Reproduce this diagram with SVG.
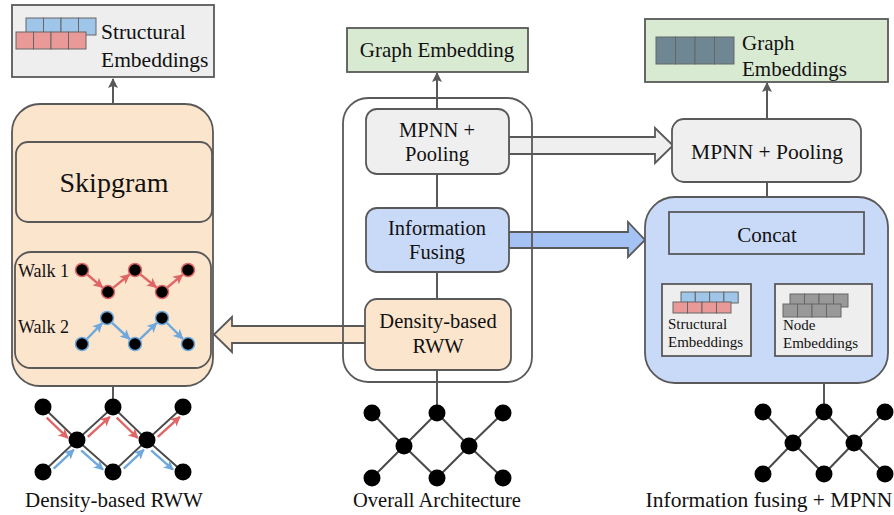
<svg xmlns="http://www.w3.org/2000/svg" width="894" height="515" viewBox="0 0 894 515" font-family="'Liberation Serif', 'DejaVu Serif', serif">
  <style>
    text { font-family: "Liberation Serif", "DejaVu Serif", serif; fill: #111; }
    .box { stroke: #595959; stroke-width: 1.8; }
    .peach { fill: #fce5cd; }
    .blue { fill: #c9daf8; }
    .green { fill: #d9ead3; }
    .grey { fill: #efefef; }
    .wire { stroke: #595959; stroke-width: 2; fill: none; }
    .edge { stroke: #4a4a4a; stroke-width: 2; fill: none; }
    .node { fill: #000; }
    .sq { stroke: #666; stroke-width: 1; }
    .sqb { fill: #9fc5e8; }
    .sqp { fill: #ea9999; }
    .sqg { fill: #999999; }
    .sqs { fill: #6f8793; }
    .halo { stroke: #fff; stroke-width: 5; fill: none; stroke-linecap: round; }
    .red { stroke: #e06666; stroke-width: 2.4; fill: none; }
    .bl { stroke: #6fa8dc; stroke-width: 2.4; fill: none; }
    .c { text-anchor: middle; }
  </style>
  <defs>
    <marker id="ah-dark" markerUnits="userSpaceOnUse" markerWidth="10" markerHeight="12" viewBox="0 0 10 12" refX="9" refY="6" orient="auto">
      <path d="M0,1 L10,6 L0,11 L2,6 z" fill="#595959"/>
    </marker>
    <marker id="ah-red" markerUnits="userSpaceOnUse" markerWidth="10" markerHeight="10" viewBox="0 0 10 10" refX="9" refY="5" orient="auto">
      <path d="M0,0 L10,5 L0,10 L2.5,5 z" fill="#e06666"/>
    </marker>
    <marker id="ah-blue" markerUnits="userSpaceOnUse" markerWidth="10" markerHeight="10" viewBox="0 0 10 10" refX="9" refY="5" orient="auto">
      <path d="M0,0 L10,5 L0,10 L2.5,5 z" fill="#6fa8dc"/>
    </marker>
  </defs>

  <!-- block arrows between stages -->
  <g id="connectors">
    <path class="box" fill="#fce5cd" d="M366,326 L232,326 L232,317 L214,334.5 L232,352 L232,343 L366,343 z"/>
    <path class="box" fill="#efefef" d="M509,137 L655,137 L655,128 L673,145.5 L655,163 L655,154 L509,154 z"/>
    <path class="box" fill="#a4c2f4" d="M509,232 L628,232 L628,222 L645,240 L628,257 L628,248 L509,248 z"/>

    <!-- left column wires -->
    <line class="wire" x1="113" y1="142" x2="113" y2="79" marker-end="url(#ah-dark)"/>
    <line class="wire" x1="113" y1="222" x2="113" y2="252"/>
    <line class="wire" x1="113" y1="368" x2="113" y2="407"/>

    <!-- middle column wires -->
    <line class="wire" x1="437" y1="109" x2="437" y2="73" marker-end="url(#ah-dark)"/>
    <line class="wire" x1="437" y1="174" x2="437" y2="208"/>
    <line class="wire" x1="437" y1="272" x2="437" y2="299"/>
    <line class="wire" x1="437" y1="370" x2="437" y2="413"/>

    <!-- right column wires -->
    <line class="wire" x1="767" y1="119" x2="767" y2="83" marker-end="url(#ah-dark)"/>
    <line class="wire" x1="767" y1="182" x2="767" y2="212"/>
    <line class="wire" x1="707" y1="254" x2="707" y2="284"/>
    <line class="wire" x1="826" y1="254" x2="826" y2="284"/>
    <line class="wire" x1="824" y1="356" x2="824" y2="412"/>
  </g>

  <!-- left column: random-walk pipeline -->
  <g id="structural-embeddings">
    <rect class="box" fill="#eeeeee" x="12" y="5" width="202" height="72"/>
    <rect class="sq sqb" x="26" y="18" width="17.5" height="17"/>
    <rect class="sq sqb" x="43.5" y="18" width="17.5" height="17"/>
    <rect class="sq sqb" x="61" y="18" width="17.5" height="17"/>
    <rect class="sq sqb" x="78.5" y="18" width="17.5" height="17"/>
    <rect class="sq sqp" x="16" y="32" width="17.5" height="17"/>
    <rect class="sq sqp" x="33.5" y="32" width="17.5" height="17"/>
    <rect class="sq sqp" x="51" y="32" width="17.5" height="17"/>
    <rect class="sq sqp" x="68.5" y="32" width="17.5" height="17"/>
    <text x="101" y="39" font-size="21.5">Structural</text>
    <text x="101" y="67" font-size="21.5">Embeddings</text>
  </g>

  <g id="rww-panel">
    <rect class="box peach" x="12" y="104" width="201" height="282" rx="28"/>
  </g>

  <g id="skipgram">
    <rect class="box peach" x="16" y="142" width="196" height="80" rx="12"/>
    <text class="c" x="114" y="192" font-size="28">Skipgram</text>
  </g>

  <g id="walks">
    <rect class="box peach" x="15" y="252" width="196" height="116" rx="16"/>
    <text x="18" y="277" font-size="18">Walk 1</text>
    <text x="18" y="333" font-size="18">Walk 2</text>
    <line class="red" x1="87.3" y1="274.5" x2="102.5" y2="287.3" marker-end="url(#ah-red)"/>
    <line class="red" x1="113.4" y1="287.6" x2="129.3" y2="274.7" marker-end="url(#ah-red)"/>
    <line class="red" x1="140.4" y1="274.4" x2="156.3" y2="287.3" marker-end="url(#ah-red)"/>
    <line class="red" x1="167.3" y1="287.5" x2="182.4" y2="274.8" marker-end="url(#ah-red)"/>
    <line class="bl" x1="86.9" y1="339" x2="102" y2="323.3" marker-end="url(#ah-blue)"/>
    <line class="bl" x1="112.1" y1="322.8" x2="129.6" y2="339" marker-end="url(#ah-blue)"/>
    <line class="bl" x1="140" y1="339.1" x2="156.6" y2="323.2" marker-end="url(#ah-blue)"/>
    <line class="bl" x1="167" y1="323" x2="182.7" y2="338.7" marker-end="url(#ah-blue)"/>
    <g class="node" stroke="#e06666" stroke-width="1.5">
      <circle cx="82" cy="270" r="6.5"/>
      <circle cx="108" cy="292" r="6.5"/>
      <circle cx="135" cy="270" r="6.5"/>
      <circle cx="162" cy="292" r="6.5"/>
      <circle cx="188" cy="270" r="6.5"/>
    </g>
    <g class="node" stroke="#6fa8dc" stroke-width="1.5">
      <circle cx="82" cy="344" r="6.5"/>
      <circle cx="107" cy="318" r="6.5"/>
      <circle cx="135" cy="344" r="6.5"/>
      <circle cx="162" cy="318" r="6.5"/>
      <circle cx="188" cy="344" r="6.5"/>
    </g>
  </g>

  <g id="rww-graph">
    <path class="edge" d="M43,407 L77,440 L113,407 L147,440 L183,407 M43,472 L77,440 L113,472 L147,440 L183,472"/>
    <g class="halo">
      <line x1="46.7" y1="417.6" x2="67.8" y2="438"/>
      <line x1="87.8" y1="436.9" x2="109.8" y2="416.8"/>
      <line x1="116.7" y1="417.6" x2="137.8" y2="438"/>
      <line x1="157.8" y1="436.9" x2="179.8" y2="416.8"/>
      <line x1="53.7" y1="468.7" x2="73.8" y2="449.8"/>
      <line x1="81.2" y1="450.3" x2="103" y2="469.7"/>
      <line x1="123.7" y1="468.7" x2="143.8" y2="449.8"/>
      <line x1="151.2" y1="450.3" x2="173" y2="469.7"/>
    </g>
    <line class="red" x1="46.7" y1="417.6" x2="67.8" y2="438" marker-end="url(#ah-red)"/>
    <line class="red" x1="87.8" y1="436.9" x2="109.8" y2="416.8" marker-end="url(#ah-red)"/>
    <line class="red" x1="116.7" y1="417.6" x2="137.8" y2="438" marker-end="url(#ah-red)"/>
    <line class="red" x1="157.8" y1="436.9" x2="179.8" y2="416.8" marker-end="url(#ah-red)"/>
    <line class="bl" x1="53.7" y1="468.7" x2="73.8" y2="449.8" marker-end="url(#ah-blue)"/>
    <line class="bl" x1="81.2" y1="450.3" x2="103" y2="469.7" marker-end="url(#ah-blue)"/>
    <line class="bl" x1="123.7" y1="468.7" x2="143.8" y2="449.8" marker-end="url(#ah-blue)"/>
    <line class="bl" x1="151.2" y1="450.3" x2="173" y2="469.7" marker-end="url(#ah-blue)"/>
    <g class="node">
      <circle cx="43" cy="407" r="8.5"/>
      <circle cx="113" cy="407" r="8.5"/>
      <circle cx="183" cy="407" r="8.5"/>
      <circle cx="77" cy="440" r="8.5"/>
      <circle cx="147" cy="440" r="8.5"/>
      <circle cx="43" cy="472" r="8.5"/>
      <circle cx="113" cy="472" r="8.5"/>
      <circle cx="183" cy="472" r="8.5"/>
    </g>
    <text class="c" x="114" y="507" font-size="21">Density-based RWW</text>
  </g>

  <!-- middle column: overall architecture -->
  <g id="graph-embedding">
    <rect class="box green" x="347" y="28" width="181" height="44"/>
    <text class="c" x="437" y="57" font-size="21">Graph Embedding</text>
  </g>

  <g id="mpnn-pooling-mid">
    <rect class="box grey" x="366" y="109" width="143" height="65" rx="11"/>
    <text class="c" x="437" y="137" font-size="20.5">MPNN +</text>
    <text class="c" x="437" y="161" font-size="20.5">Pooling</text>
  </g>

  <g id="information-fusing">
    <rect class="box blue" x="366" y="208" width="143" height="64" rx="11"/>
    <text class="c" x="437" y="235" font-size="20.5">Information</text>
    <text class="c" x="437" y="259" font-size="20.5">Fusing</text>
  </g>

  <g id="density-rww">
    <rect class="box peach" x="365" y="299" width="146" height="71" rx="12"/>
    <text class="c" x="438" y="328" font-size="20.5">Density-based</text>
    <text class="c" x="438" y="353" font-size="20.5">RWW</text>
  </g>

  <g id="architecture-frame">
    <rect class="box" fill="none" x="343" y="98" width="189" height="284" rx="25"/>
  </g>

  <g id="overall-graph">
    <path class="edge" d="M372,413 L404,446 L437,413 L469,446 L503,413 M372,478 L404,446 L437,478 L469,446 L503,478"/>
    <g class="node">
      <circle cx="372" cy="413" r="8.5"/>
      <circle cx="437" cy="413" r="8.5"/>
      <circle cx="503" cy="413" r="8.5"/>
      <circle cx="404" cy="446" r="8.5"/>
      <circle cx="469" cy="446" r="8.5"/>
      <circle cx="372" cy="478" r="8.5"/>
      <circle cx="437" cy="478" r="8.5"/>
      <circle cx="503" cy="478" r="8.5"/>
    </g>
    <text class="c" x="437" y="507" font-size="20.5">Overall Architecture</text>
  </g>

  <!-- right column: fusing + MPNN -->
  <g id="graph-embeddings">
    <rect class="box green" x="645" y="19" width="243" height="63"/>
    <rect class="sq sqs" x="656" y="37" width="19.5" height="27"/>
    <rect class="sq sqs" x="675.5" y="37" width="19.5" height="27"/>
    <rect class="sq sqs" x="695" y="37" width="19.5" height="27"/>
    <rect class="sq sqs" x="714.5" y="37" width="19.5" height="27"/>
    <text x="742" y="50" font-size="21">Graph</text>
    <text x="742" y="76" font-size="21">Embeddings</text>
  </g>

  <g id="mpnn-pooling-right">
    <rect class="box grey" x="672" y="119" width="189" height="63" rx="12"/>
    <text class="c" x="767" y="159" font-size="21.5">MPNN + Pooling</text>
  </g>

  <g id="fusion-panel">
    <rect class="box blue" x="645" y="197" width="243" height="186" rx="30"/>
  </g>

  <g id="concat">
    <rect class="box blue" x="669" y="212" width="195" height="42"/>
    <text class="c" x="767" y="242" font-size="21">Concat</text>
  </g>

  <g id="structural-input">
    <rect class="box" fill="#eeeeee" x="662" y="284" width="89" height="72"/>
    <rect class="sq sqb" x="681" y="292" width="14.3" height="11"/>
    <rect class="sq sqb" x="695.3" y="292" width="14.3" height="11"/>
    <rect class="sq sqb" x="709.6" y="292" width="14.3" height="11"/>
    <rect class="sq sqb" x="723.9" y="292" width="14.3" height="11"/>
    <rect class="sq sqp" x="673" y="302" width="14.5" height="11"/>
    <rect class="sq sqp" x="687.5" y="302" width="14.5" height="11"/>
    <rect class="sq sqp" x="702" y="302" width="14.5" height="11"/>
    <rect class="sq sqp" x="716.5" y="302" width="14.5" height="11"/>
    <text x="668" y="329" font-size="15">Structural</text>
    <text x="668" y="347" font-size="15">Embeddings</text>
  </g>

  <g id="node-input">
    <rect class="box" fill="#eeeeee" x="775" y="284" width="97" height="72"/>
    <rect class="sq sqg" x="790" y="294" width="14.5" height="13"/>
    <rect class="sq sqg" x="804.5" y="294" width="14.5" height="13"/>
    <rect class="sq sqg" x="819" y="294" width="14.5" height="13"/>
    <rect class="sq sqg" x="833.5" y="294" width="14.5" height="13"/>
    <rect class="sq sqg" x="783" y="304" width="14.5" height="13"/>
    <rect class="sq sqg" x="797.5" y="304" width="14.5" height="13"/>
    <rect class="sq sqg" x="812" y="304" width="14.5" height="13"/>
    <rect class="sq sqg" x="826.5" y="304" width="14.5" height="13"/>
    <text x="783" y="330" font-size="15">Node</text>
    <text x="783" y="348" font-size="15">Embeddings</text>
  </g>

  <g id="fusing-graph">
    <path class="edge" d="M763,412 L793,443 L824,412 L854,443 L885,412 M763,474 L793,443 L824,474 L854,443 L885,474"/>
    <g class="node">
      <circle cx="763" cy="412" r="8.5"/>
      <circle cx="824" cy="412" r="8.5"/>
      <circle cx="885" cy="412" r="8.5"/>
      <circle cx="793" cy="443" r="8.5"/>
      <circle cx="854" cy="443" r="8.5"/>
      <circle cx="763" cy="474" r="8.5"/>
      <circle cx="824" cy="474" r="8.5"/>
      <circle cx="885" cy="474" r="8.5"/>
    </g>
    <text class="c" x="769" y="507" font-size="21.5">Information fusing + MPNN</text>
  </g>
</svg>
